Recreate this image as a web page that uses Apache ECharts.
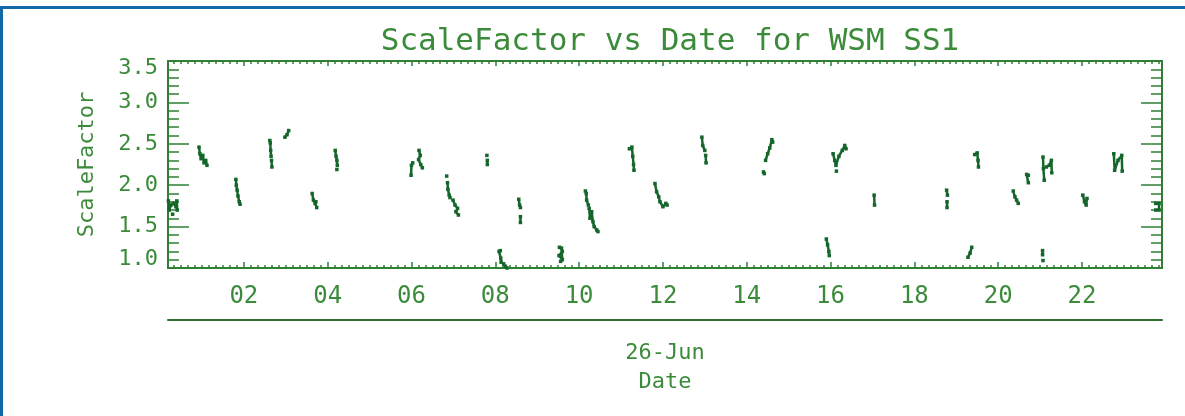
<!DOCTYPE html>
<html>
<head>
<meta charset="utf-8">
<title>ScaleFactor vs Date for WSM SS1</title>
<script src="https://cdn.jsdelivr.net/npm/echarts@6/dist/echarts.min.js"></script>
<style>
html, body { margin: 0; padding: 0; background: #fff; }
#frame { position: absolute; left: 0; top: 6px; width: 1185px; height: 410px; box-sizing: border-box;
         border-top: 3px solid #1368a6; border-left: 3px solid #1368a6; }
#chart { position: absolute; left: 0; top: 0; width: 1185px; height: 416px; }
</style>
</head>
<body>
<div id="frame"></div>
<div id="chart"></div>
<script>
// hour of 26-Jun, null = gap between traces
var traceHour = [
  0.20, 0.22, 0.26, 0.32, 0.38, 0.40, 0.41, null, 0.30, null,
  0.93, 0.95, 0.98, 1.02, 1.05, 1.09, 1.12, null,
  1.81, 1.82, 1.84, 1.86, 1.89, 1.91, null,
  2.62, null, 2.63, 2.64, 2.65, null, 2.66, 2.67, null,
  2.98, 3.03, 3.07, null,
  3.63, 3.66, 3.70, 3.72, 3.74, null,
  4.18, 4.20, 4.22, 4.23, null, 4.22, null,
  5.99, 6.00, 6.03, null, 6.18, 6.21, 6.17, 6.22, 6.26, null,
  6.84, null, 6.86, 6.87, 6.90, 6.92, null, 6.99, 7.04, 7.10, 7.06, 7.12, null,
  7.80, null, 7.81, 7.81, null,
  8.09, 8.12, 8.13, 8.14, null, 8.20, 8.24, 8.28, null,
  8.56, 8.58, 8.60, null, 8.60, 8.60, null,
  9.53, 9.58, 9.60, 9.56, 9.52, 9.60, null,
  10.15, null, 10.17, 10.18, 10.22, null, 10.24, 10.26, 10.30, 10.33, 10.36, 10.42, 10.45, null,
  11.20, 11.26, 11.28, 11.30, 11.31, null,
  11.81, 11.85, 11.90, 11.93, 12.00, 12.07, 12.10, null,
  12.93, 12.95, 13.00, null, 13.02, 13.03, null,
  14.40, 14.42, null, 14.45, 14.50, 14.55, 14.60, 14.62, null,
  15.90, 15.93, 15.96, 15.97, null,
  16.06, 16.10, 16.13, 16.20, 16.28, 16.34, 16.37, null, 16.14, null,
  17.04, 17.05, null,
  18.77, 18.79, null, 18.78, 18.78, null,
  19.28, 19.33, 19.37, null,
  19.44, 19.50, 19.52, 19.53, null,
  20.36, 20.40, 20.44, 20.48, null,
  20.68, 20.72, 20.72, null,
  21.06, 21.06, null, 21.07, null,
  21.07, 21.08, 21.10, null, 21.15, 21.22, 21.27, 21.28, null,
  22.02, 22.06, 22.10, 22.12, null,
  22.76, 22.78, 22.86, 22.95, 22.96, null,
  23.76, 23.84, 23.84, 23.76
];
var traceScale = [
  1.81, 1.70, 1.76, 1.78, 1.74, 1.81, 1.70, null, 1.65, null,
  2.46, 2.38, 2.32, 2.36, 2.27, 2.30, 2.24, null,
  2.07, 2.00, 1.94, 1.87, 1.80, 1.77, null,
  2.54, null, 2.51, 2.42, 2.35, null, 2.30, 2.22, null,
  2.58, 2.61, 2.66, null,
  1.90, 1.82, 1.78, 1.80, 1.73, null,
  2.42, 2.35, 2.30, 2.24, null, 2.19, null,
  2.12, 2.24, 2.27, null, 2.42, 2.36, 2.31, 2.25, 2.21, null,
  2.11, null, 2.03, 1.95, 1.88, 1.85, null, 1.82, 1.76, 1.72, 1.68, 1.64, null,
  2.36, null, 2.30, 2.25, null,
  1.20, 1.21, 1.12, 1.07, null, 1.05, 1.02, 1.00, null,
  1.83, 1.76, 1.73, null, 1.62, 1.55, null,
  1.25, 1.24, 1.10, 1.08, 1.15, 1.20, null,
  1.93, null, 1.90, 1.82, 1.76, null, 1.72, 1.60, 1.68, 1.56, 1.50, 1.46, 1.44, null,
  2.44, 2.46, 2.35, 2.25, 2.18, null,
  2.02, 1.92, 1.86, 1.80, 1.74, 1.78, 1.76, null,
  2.58, 2.48, 2.42, null, 2.36, 2.27, null,
  2.16, 2.14, null, 2.30, 2.38, 2.45, 2.55, 2.52, null,
  1.35, 1.28, 1.20, 1.15, null,
  2.38, 2.30, 2.24, 2.35, 2.42, 2.48, 2.44, null, 2.17, null,
  1.88, 1.76, null,
  1.94, 1.88, null, 1.80, 1.73, null,
  1.13, 1.18, 1.25, null,
  2.37, 2.39, 2.30, 2.22, null,
  1.93, 1.86, 1.82, 1.78, null,
  2.13, 2.12, 2.03, null,
  1.21, 1.16, null, 1.09, null,
  2.34, 2.20, 2.06, null, 2.22, 2.24, 2.30, 2.15, null,
  1.88, 1.80, 1.76, 1.84, null,
  2.38, 2.18, 2.30, 2.36, 2.17, null,
  1.78, 1.78, 1.70, 1.70
];
var hourTicks = [2, 4, 6, 8, 10, 12, 14, 16, 18, 20, 22];
var xMin = 0.19, xMax = 23.91;

var axisGreen = '#2f7f34';
var textGreen = '#3b8b3b';
var dataGreen = '#15662b';
var fontFam = 'DejaVu Sans Mono';

// 10 minute minor ticks
var minorHours = [];
for (var k = 2; k < 144; k++) {
  if (k % 12 !== 0) minorHours.push(k / 6);
}

var seriesData = traceHour.map(function (h, i) {
  return h === null ? [null, null] : [h, traceScale[i]];
});

function xAxisPart(pos, vals, len, line, labels) {
  return {
    type: 'value', position: pos, min: xMin, max: xMax,
    axisLine: { show: line, onZero: false, lineStyle: { color: axisGreen, width: 2 } },
    axisTick: { show: true, inside: true, length: len, customValues: vals, lineStyle: { color: axisGreen, width: 1.5 } },
    axisLabel: labels ? {
      show: true, customValues: hourTicks, margin: 17, color: textGreen,
      fontFamily: fontFam, fontSize: 24,
      formatter: function (v) { return (v < 10 ? '0' : '') + v; }
    } : { show: false },
    splitLine: { show: false }
  };
}

function yAxisPart(pos, labels) {
  return {
    type: 'value', position: pos, min: 1, max: 3.5, interval: 0.5,
    name: labels ? 'ScaleFactor' : '', nameLocation: 'middle', nameGap: 70,
    nameTextStyle: { color: textGreen, fontFamily: fontFam, fontSize: 22 },
    axisLine: { show: true, onZero: false, lineStyle: { color: axisGreen, width: 2 } },
    axisTick: { show: true, inside: true, length: 21, lineStyle: { color: axisGreen, width: 1.5 } },
    minorTick: { show: true, splitNumber: 5, length: 11, lineStyle: { color: axisGreen, width: 1.5 } },
    axisLabel: labels ? {
      show: true, margin: 10, color: textGreen, fontFamily: fontFam, fontSize: 22,
      formatter: function (v) {
        if (v === 3.5) return '{top|3.5}';
        if (v === 1) return '{bot|1.0}';
        return v.toFixed(1);
      },
      rich: {
        top: { color: textGreen, fontFamily: fontFam, fontSize: 22, padding: [14, 0, 0, 0] },
        bot: { color: textGreen, fontFamily: fontFam, fontSize: 22, padding: [0, 0, 18, 0] }
      }
    } : { show: false },
    splitLine: { show: false },
    minorSplitLine: { show: false }
  };
}

var dateAxis = {
  type: 'value', position: 'bottom', offset: 52, min: xMin, max: xMax,
  name: '26-Jun\nDate', nameLocation: 'middle', nameGap: 19,
  nameTextStyle: { color: textGreen, fontFamily: fontFam, fontSize: 22, lineHeight: 29 },
  axisLine: { show: true, onZero: false, lineStyle: { color: '#2a6f30', width: 2 } },
  axisTick: { show: false }, axisLabel: { show: false }, splitLine: { show: false }
};

var chart = echarts.init(document.getElementById('chart'));
chart.setOption({
  animation: false,
  backgroundColor: 'transparent',
  title: {
    text: 'ScaleFactor vs Date for WSM SS1', left: 665, textAlign: 'center', top: 21,
    textStyle: { color: textGreen, fontFamily: fontFam, fontSize: 31, fontWeight: 'normal' }
  },
  grid: { left: 168, right: 23, top: 61, bottom: 148, outerBoundsMode: 'none' },
  xAxis: [
    xAxisPart('bottom', hourTicks, 6, true, true),
    xAxisPart('bottom', minorHours, 3, false, false),
    xAxisPart('top', hourTicks, 5, true, false),
    xAxisPart('top', minorHours, 3, false, false),
    dateAxis
  ],
  yAxis: [yAxisPart('left', true), yAxisPart('right', false)],
  series: [{
    type: 'line', xAxisIndex: 0, yAxisIndex: 0,
    data: seriesData, connectNulls: false,
    symbol: 'rect', symbolSize: 3.5, showSymbol: true,
    lineStyle: { color: dataGreen, width: 2.5 },
    itemStyle: { color: dataGreen },
    clip: false
  }]
});
</script>
</body>
</html>
